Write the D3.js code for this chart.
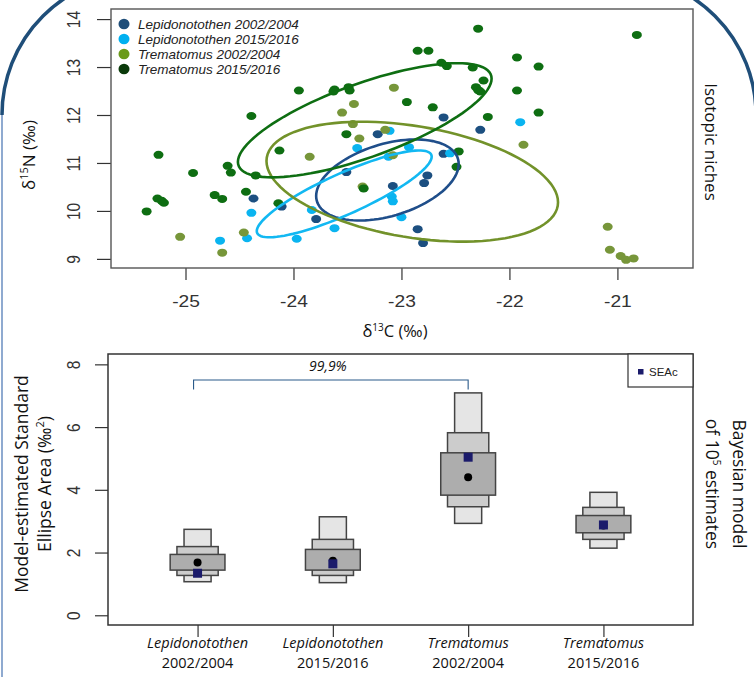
<!DOCTYPE html>
<html>
<head>
<meta charset="utf-8">
<script src="https://cdn.jsdelivr.net/npm/d3@7"></script>
<style>
  body { margin: 0; background: #fff; }
  svg { display: block; }
</style>
</head>
<body>
<div id="chart"></div>
<script>
// ---- data ----
var groups = ["Lepidonotothen 2002/2004", "Lepidonotothen 2015/2016", "Trematomus 2002/2004", "Trematomus 2015/2016"];

// d13C / d15N of each fish
var lep0204C = [-24.37, -24.11, -23.79, -23.22, -23.51, -22.61, -22.61, -22.76, -22.79, -23.08, -22.85, -22.80, -22.27];
var lep0204N = [10.26, 10.09, 9.83, 11.60, 10.81, 11.95, 11.19, 10.74, 10.58, 10.52, 9.62, 9.33, 11.69];

var lep1516C = [-24.39, -24.68, -24.43, -23.97, -23.62, -23.41, -23.11, -22.93, -23.12, -23.09, -23.08, -23.00, -23.83, -21.90, -22.55];
var lep1516N = [9.96, 9.38, 9.43, 9.42, 9.64, 11.31, 11.67, 11.33, 11.13, 10.30, 10.20, 9.87, 10.02, 11.85, 11.20];

var tre0204C = [-25.05, -24.46, -24.66, -23.07, -23.44, -23.55, -23.15, -23.39, -23.85, -23.36, -23.08, -21.87, -21.09, -21.07, -20.97, -20.92, -20.85, -23.45];
var tre0204N = [9.46, 9.55, 9.13, 12.57, 12.23, 12.05, 11.69, 11.51, 11.13, 10.51, 11.16, 11.38, 9.67, 9.19, 9.06, 8.98, 9.01, 11.81];

var tre1516C = [-25.25, -24.93, -25.36, -25.26, -25.22, -25.20, -24.73, -24.66, -24.61, -24.58, -24.44, -24.39, -24.35, -24.13, -24.14,
                -23.95, -23.63, -23.62, -23.49, -23.48, -22.29, -22.85, -22.75, -22.63, -22.58, -22.34, -22.31, -22.29, -22.27, -22.24,
                -22.95, -22.71, -23.51, -22.47, -23.35, -22.49, -21.93, -21.73, -21.93, -21.73, -22.20, -20.82];
var tre1516N = [11.17, 10.79, 9.99, 10.26, 10.21, 10.17, 10.33, 10.25, 10.94, 10.80, 10.40, 11.98, 10.74, 11.26, 10.16,
                12.51, 12.49, 12.53, 12.58, 12.51, 13.80, 13.34, 13.34, 13.09, 13.02, 12.99, 12.58, 12.52, 12.49, 12.72,
                12.27, 12.16, 11.60, 11.24, 10.47, 10.92, 13.20, 13.01, 12.51, 12.05, 11.96, 13.67];

// standard ellipses: centre and covariance [varC, varN, cov]
var ellipseCentre = [[-23.13, 10.645], [-23.53, 10.355], [-22.90, 10.61], [-23.34, 11.89]];
var ellipseCov = [[0.4356, 0.714, 0.22], [0.656, 0.819, 0.628], [1.8225, 1.5625, -0.58], [1.38, 1.416, 1.02]];

var xTicksTop = [-25, -24, -23, -22, -21];
var yTicksTop = [9, 10, 11, 12, 13, 14];

// Bayesian SEA estimates
var seaCats = ["Lepidonotothen|2002/2004", "Lepidonotothen|2015/2016", "Trematomus|2002/2004", "Trematomus|2015/2016"];
var ci95 = [[1.07, 2.74], [1.04, 3.14], [2.93, 7.09], [2.14, 3.92]];
var ci75 = [[1.27, 2.19], [1.27, 2.42], [3.46, 5.82], [2.42, 3.44]];
var ci50 = [[1.44, 1.94], [1.44, 2.10], [3.83, 5.18], [2.63, 3.18]];
var seaMode = [1.68, 1.74, 4.40, 2.86];
var seaC = [1.34, 1.64, 5.04, 2.88];
var yTicksBottom = [0, 2, 4, 6, 8];
var compareLabel = "99,9%";

// ---- styles ----
var ptColor = ["#1c4f80", "#0ab4f0", "#77963a", "#0e6e12"];
var legColor = ["#1F4E79", "#00B0F0", "#6B9A1A", "#0a3a0a"];
var ellColor = ["#1f4e8a", "#12b8f2", "#72922a", "#0e6e12"];
var arial = "Liberation Sans, Arial, sans-serif";
var calib = "'Open Sans', Carlito, sans-serif";
var plain = function(d){ return String(d); };   // keep the ascii hyphen like R does

var W = 754, H = 677;
var svg = d3.select("#chart").append("svg").attr("width", W).attr("height", H);
svg.append("rect").attr("width", W).attr("height", H).attr("fill", "#fff");

// decorative frame
svg.append("path")
    .attr("d", "M2,115 A140,140 0 0 1 142,-25 L616,-25 A140,140 0 0 1 756,115")
    .attr("fill", "none").attr("stroke", "#1F4E79").attr("stroke-width", 3.5);
svg.append("line").attr("x1", 2).attr("x2", 2).attr("y1", 115).attr("y2", H)
    .attr("stroke", "#8faad0").attr("stroke-width", 2);

// ================= top: isotopic niches =================
var tp = {l: 111, r: 693, t: 9, b: 268};
var x = d3.scaleLinear().domain([-25.69, -20.30]).range([tp.l, tp.r]);
var y = d3.scaleLinear().domain([8.81, 14.21]).range([tp.b, tp.t]);

var topG = svg.append("g");

var yAx = topG.append("g").attr("transform", "translate(" + tp.l + ",0)")
    .call(d3.axisLeft(y).tickValues(yTicksTop).tickSize(14).tickFormat(plain));
yAx.select(".domain").remove();
yAx.selectAll(".tick line").attr("stroke", "#333").attr("stroke-width", 1.2);
yAx.selectAll(".tick text")
    .attr("x", null).attr("dy", null)
    .attr("transform", "translate(-31,0) scale(1.15,1) rotate(-90)")
    .attr("text-anchor", "middle")
    .attr("font-family", arial).attr("font-size", 15.5).attr("fill", "#333");

var xAx = topG.append("g").attr("transform", "translate(0," + tp.b + ")")
    .call(d3.axisBottom(x).tickValues(xTicksTop).tickSize(12).tickFormat(plain));
xAx.select(".domain").remove();
xAx.selectAll(".tick line").attr("stroke", "#333").attr("stroke-width", 1.2);
xAx.selectAll(".tick text")
    .attr("y", null).attr("dy", null)
    .attr("transform", "translate(0,39) scale(1.2,1)")
    .attr("text-anchor", "middle")
    .attr("font-family", arial).attr("font-size", 16).attr("fill", "#333");

topG.append("rect").attr("x", tp.l).attr("y", tp.t).attr("width", tp.r - tp.l).attr("height", tp.b - tp.t)
    .attr("fill", "none").attr("stroke", "#555").attr("stroke-width", 1.4);

var pts = [
    d3.zip(lep0204C, lep0204N), d3.zip(lep1516C, lep1516N),
    d3.zip(tre0204C, tre0204N), d3.zip(tre1516C, tre1516N)
];
pts.forEach(function(p, i){
    topG.append("g").selectAll("ellipse").data(p).enter().append("ellipse")
        .attr("cx", function(d){ return x(d[0]); })
        .attr("cy", function(d){ return y(d[1]); })
        .attr("rx", 5).attr("ry", 4)
        .attr("fill", ptColor[i]);
});

// ellipses from centre + cholesky of covariance
var ts = d3.range(0, 101).map(function(k){ return k / 100 * 2 * Math.PI; });
var line = d3.line().x(function(d){ return x(d[0]); }).y(function(d){ return y(d[1]); }).curve(d3.curveLinearClosed);
ellipseCov.forEach(function(cv, i){
    var a = Math.sqrt(cv[0]), l21 = cv[2] / a, l22 = Math.sqrt(cv[1] - l21 * l21);
    var c = ellipseCentre[i];
    var pp = ts.map(function(t){
        var u = Math.cos(t), v = Math.sin(t);
        return [c[0] + a * u, c[1] + l21 * u + l22 * v];
    });
    topG.append("path").attr("d", line(pp)).attr("fill", "none")
        .attr("stroke", ellColor[i]).attr("stroke-width", 2.6);
});

// legend
var leg = topG.append("g").selectAll("g").data(groups).enter().append("g")
    .attr("transform", function(d, i){ return "translate(124," + (24 + i * 15) + ")"; });
leg.append("ellipse").attr("rx", 5.5).attr("ry", 5.2).attr("fill", function(d, i){ return legColor[i]; });
leg.append("text").attr("x", 14).attr("y", 4.5)
    .attr("font-family", arial).attr("font-style", "italic").attr("font-size", 13.5).attr("fill", "#222")
    .text(function(d){ return d; });

// titles
var xt = topG.append("text").attr("x", 395).attr("y", 337).attr("text-anchor", "middle")
    .attr("font-family", calib).attr("font-size", 16.5).attr("fill", "#111");
xt.append("tspan").text("δ");
xt.append("tspan").attr("font-size", 10).attr("dy", -6).text("13");
xt.append("tspan").attr("dy", 6).text("C (‰)");

var yt = topG.append("text").attr("transform", "translate(35,155) rotate(-90)").attr("text-anchor", "middle")
    .attr("font-family", calib).attr("font-size", 17).attr("fill", "#111");
yt.append("tspan").text("δ");
yt.append("tspan").attr("font-size", 11).attr("dy", -7).text("15");
yt.append("tspan").attr("dy", 7).text("N (‰)");

topG.append("text").attr("transform", "translate(705,142) rotate(90)").attr("text-anchor", "middle")
    .attr("font-family", calib).attr("font-size", 17).attr("fill", "#111").text("Isotopic niches");

// ================= bottom: SEA estimates =================
var bp = {l: 108, r: 693, t: 354, b: 625};
var bx = d3.scalePoint().domain(seaCats).range([bp.l, bp.r]).padding(0.662);
var by = d3.scaleLinear().domain([-0.31, 8.33]).range([bp.b, bp.t]);
var step = bx.step();

var bot = svg.append("g");

var byAx = bot.append("g").attr("transform", "translate(" + bp.l + ",0)")
    .call(d3.axisLeft(by).tickValues(yTicksBottom).tickSize(13).tickFormat(plain));
byAx.select(".domain").remove();
byAx.selectAll(".tick line").attr("stroke", "#333").attr("stroke-width", 1.2);
byAx.selectAll(".tick text")
    .attr("x", null).attr("dy", null)
    .attr("transform", "translate(-28,0) scale(1.2,1) rotate(-90)")
    .attr("text-anchor", "middle")
    .attr("font-family", arial).attr("font-size", 15.5).attr("fill", "#333");

var bxAx = bot.append("g").attr("transform", "translate(0," + bp.b + ")")
    .call(d3.axisBottom(bx).tickSize(12).tickFormat(""));
bxAx.select(".domain").remove();
bxAx.selectAll(".tick line").attr("stroke", "#333").attr("stroke-width", 1.2);

var cat = bot.append("g").selectAll("text").data(seaCats).enter().append("text")
    .attr("x", function(d){ return bx(d); }).attr("text-anchor", "middle")
    .attr("font-family", calib).attr("font-size", 14.5).attr("fill", "#111");
cat.append("tspan").attr("x", function(d){ return bx(d); }).attr("y", 648)
    .attr("font-style", "italic").text(function(d){ return d.split("|")[0]; });
cat.append("tspan").attr("x", function(d){ return bx(d); }).attr("y", 668)
    .text(function(d){ return d.split("|")[1]; });

bot.append("rect").attr("x", bp.l).attr("y", bp.t).attr("width", bp.r - bp.l).attr("height", bp.b - bp.t)
    .attr("fill", "none").attr("stroke", "#333").attr("stroke-width", 1.5);

// nested credible-interval boxes
var boxLayers = [
    {ci: ci95, w: 0.20, fill: "#e5e5e5"},
    {ci: ci75, w: 0.305, fill: "#cccccc"},
    {ci: ci50, w: 0.405, fill: "#adadad"}
];
boxLayers.forEach(function(layer){
    bot.append("g").selectAll("rect").data(seaCats).enter().append("rect")
        .attr("x", function(d){ return bx(d) - layer.w * step / 2; })
        .attr("width", layer.w * step)
        .attr("y", function(d, i){ return by(layer.ci[i][1]); })
        .attr("height", function(d, i){ return by(layer.ci[i][0]) - by(layer.ci[i][1]); })
        .attr("fill", layer.fill).attr("stroke", "#444").attr("stroke-width", 1.5);
});

bot.append("g").selectAll("circle").data(seaCats).enter().append("circle")
    .attr("cx", function(d){ return bx(d); })
    .attr("cy", function(d, i){ return by(seaMode[i]); })
    .attr("r", 4).attr("fill", "#000");

bot.append("g").selectAll("rect").data(seaCats).enter().append("rect")
    .attr("x", function(d){ return bx(d) - 4.5; })
    .attr("y", function(d, i){ return by(seaC[i]) - 4.5; })
    .attr("width", 9).attr("height", 9).attr("fill", "#1b1b6b");

// comparison bracket
var bl = bx(seaCats[0]) - 4, br = bx(seaCats[2]);
bot.append("path")
    .attr("d", "M" + bl + "," + by(7.2) + "V" + by(7.5) + "H" + br + "V" + by(7.2))
    .attr("fill", "none").attr("stroke", "#2a5a8a").attr("stroke-width", 1.1);
bot.append("text").attr("x", (bl + br) / 2 - 3).attr("y", 371).attr("text-anchor", "middle")
    .attr("font-family", calib).attr("font-style", "italic").attr("font-size", 14).attr("fill", "#111")
    .text(compareLabel);

// SEAc legend
bot.append("rect").attr("x", 628).attr("y", bp.t).attr("width", bp.r - 628).attr("height", 33)
    .attr("fill", "#fff").attr("stroke", "#333").attr("stroke-width", 1.2);
bot.append("rect").attr("x", 638).attr("y", 369).attr("width", 5.5).attr("height", 5.5).attr("fill", "#1b1b6b");
bot.append("text").attr("x", 649).attr("y", 376).attr("font-family", arial).attr("font-size", 11.5)
    .attr("fill", "#222").text("SEAc");

// axis titles
var byt = bot.append("text").attr("transform", "translate(0,484) rotate(-90)").attr("text-anchor", "middle")
    .attr("font-family", calib).attr("font-size", 17.5).attr("fill", "#111");
byt.append("tspan").attr("x", 0).attr("y", 28).text("Model-estimated Standard");
var l2 = byt.append("tspan").attr("x", 0).attr("y", 51).text("Ellipse Area (‰");
l2.append("tspan").attr("font-size", 11).attr("dy", -7).text("2");
l2.append("tspan").attr("dy", 7).text(")");

var rt = bot.append("text").attr("transform", "translate(0,484) rotate(90)").attr("text-anchor", "middle")
    .attr("font-family", calib).attr("font-size", 17.5).attr("fill", "#111");
rt.append("tspan").attr("x", 0).attr("y", -733).text("Bayesian model");
var r2 = rt.append("tspan").attr("x", 0).attr("y", -706).text("of 10");
r2.append("tspan").attr("font-size", 10).attr("dy", -7).text("5");
r2.append("tspan").attr("dy", 7).text(" estimates");
</script>
</body>
</html>
